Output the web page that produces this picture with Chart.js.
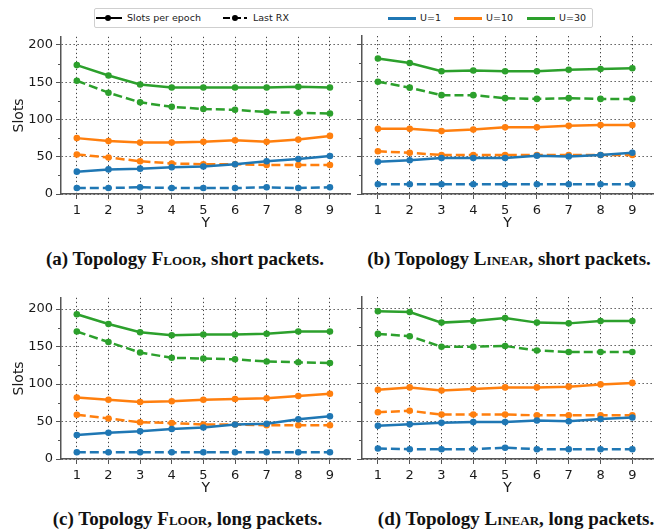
<!DOCTYPE html>
<html><head><meta charset="utf-8">
<script src="https://cdn.jsdelivr.net/npm/chart.js@4.4.1/dist/chart.umd.min.js"></script>
<style>
html,body{margin:0;padding:0;background:#fff}
body{width:670px;height:531px;position:relative;overflow:hidden;font-family:'DejaVu Sans',sans-serif;color:#1a1a1a}
.panel{position:absolute}
.cap{position:absolute;font-family:'Liberation Serif',serif;font-weight:bold;font-size:19px;line-height:20px;white-space:nowrap;transform:translateX(-50%);color:#111}
.sc{font-variant:small-caps}
#legend{position:absolute;left:94px;top:8px;width:499px;height:20px;border:1px solid #cfcfcf;border-radius:2px;box-sizing:border-box}
.lt{position:absolute;font-size:9.5px;line-height:12px;top:12px;white-space:nowrap;color:#1a1a1a}
.ln{position:absolute}
.dot{position:absolute;width:6px;height:6px;border-radius:50%;background:#000}
</style>
</head><body>
<div id="legend"></div>
<div class="ln" style="left:96px;top:17px;width:26px;height:2px;background:#000"></div>
<div class="dot" style="left:105px;top:15px"></div>
<div class="lt" style="left:127px">Slots per epoch</div>
<div class="ln" style="left:223px;top:17px;width:7px;height:2px;background:#000"></div>
<div class="ln" style="left:234px;top:17px;width:7px;height:2px;background:#000"></div>
<div class="ln" style="left:244px;top:17px;width:3px;height:2px;background:#000"></div>
<div class="dot" style="left:232px;top:15px"></div>
<div class="lt" style="left:253px">Last RX</div>
<div class="ln" style="left:388px;top:16.5px;width:28px;height:3px;background:#1f77b4"></div>
<div class="lt" style="left:420px">U=1</div>
<div class="ln" style="left:454px;top:16.5px;width:28px;height:3px;background:#ff7f0e"></div>
<div class="lt" style="left:486px">U=10</div>
<div class="ln" style="left:527px;top:16.5px;width:28px;height:3px;background:#2ca02c"></div>
<div class="lt" style="left:559px">U=30</div>

<canvas id="ca" class="panel" style="left:0px;top:26px" width="351" height="206"></canvas>
<canvas id="cb" class="panel" style="left:352px;top:26px" width="302" height="206"></canvas>
<canvas id="cc" class="panel" style="left:0px;top:287px" width="351" height="210"></canvas>
<canvas id="cd" class="panel" style="left:352px;top:287px" width="302" height="210"></canvas>

<div class="cap" style="left:185px;top:249px">(a) Topology <span class="sc">Floor</span>, short packets.</div>
<div class="cap" style="left:509px;top:249px">(b) Topology <span class="sc">Linear</span>, short packets.</div>
<div class="cap" style="left:187.5px;top:509px">(c) Topology <span class="sc">Floor</span>, long packets.</div>
<div class="cap" style="left:516px;top:509px">(d) Topology <span class="sc">Linear</span>, long packets.</div>

<script>
// ---- data ----
const xValues = [1, 2, 3, 4, 5, 6, 7, 8, 9];
const xTicks = [1, 2, 3, 4, 5, 6, 7, 8, 9];
const yTicks = [0, 50, 100, 150, 200];
const yMinorTicks = [25, 75, 125, 175];

// (a) Floor, short packets
const aSlotsU1  = [30, 33, 34, 36, 37, 40, 44, 47, 51];
const aRxU1     = [8, 8, 9, 8, 8, 8, 9, 8, 9];
const aSlotsU10 = [75, 71, 69, 69, 70, 72, 70, 73, 78];
const aRxU10    = [53, 49, 44, 41, 40, 40, 39, 39, 39];
const aSlotsU30 = [173, 159, 147, 143, 143, 143, 143, 144, 143];
const aRxU30    = [152, 136, 123, 117, 114, 113, 110, 109, 108];

// (b) Linear, short packets
const bSlotsU1  = [43, 45, 48, 48, 48, 51, 50, 52, 55];
const bRxU1     = [13, 13, 13, 13, 13, 13, 13, 13, 13];
const bSlotsU10 = [87, 87, 84, 86, 89, 89, 91, 92, 92];
const bRxU10    = [57, 55, 52, 52, 52, 52, 52, 52, 52];
const bSlotsU30 = [181, 175, 164, 165, 164, 164, 166, 167, 168];
const bRxU30    = [150, 142, 132, 132, 128, 127, 128, 127, 127];

// (c) Floor, long packets
const cSlotsU1  = [32, 35, 37, 40, 42, 46, 47, 53, 57];
const cRxU1     = [9, 9, 9, 9, 9, 9, 9, 9, 9];
const cSlotsU10 = [82, 79, 76, 77, 79, 80, 81, 84, 87];
const cRxU10    = [59, 54, 49, 48, 46, 46, 45, 45, 45];
const cSlotsU30 = [193, 180, 169, 165, 166, 166, 167, 170, 170];
const cRxU30    = [170, 156, 142, 135, 134, 133, 130, 129, 128];

// (d) Linear, long packets
const dSlotsU1  = [44, 46, 48, 49, 49, 51, 50, 53, 55];
const dRxU1     = [14, 13, 13, 13, 15, 13, 13, 13, 13];
const dSlotsU10 = [92, 95, 91, 93, 95, 95, 96, 99, 101];
const dRxU10    = [62, 64, 59, 59, 59, 58, 58, 58, 58];
const dSlotsU30 = [196, 195, 181, 183, 187, 181, 180, 183, 183];
const dRxU30    = [166, 163, 149, 149, 150, 144, 142, 142, 142];

const colorU1 = '#1f77b4', colorU10 = '#ff7f0e', colorU30 = '#2ca02c';
const FONT = "'DejaVu Sans', sans-serif";
const AXIS = '#555555';

function series(vals, color, dashed) {
  return {
    data: xValues.map((x, i) => ({x: x, y: vals[i]})),
    borderColor: color, backgroundColor: color,
    pointBackgroundColor: color, pointBorderColor: color,
    borderWidth: 2.5, pointRadius: 3.3, pointBorderWidth: 0,
    borderDash: dashed ? [9, 4] : [], tension: 0, fill: false
  };
}

const minorTicks = {
  id: 'minorTicks',
  afterDatasetsDraw(chart) {
    const ys = chart.scales.y, ctx = chart.ctx, left = chart.chartArea.left;
    ctx.save();
    ctx.strokeStyle = AXIS; ctx.lineWidth = 1;
    yMinorTicks.forEach(v => {
      const p = Math.round(ys.getPixelForValue(v)) + 0.5;
      ctx.beginPath(); ctx.moveTo(left - 3, p); ctx.lineTo(left, p); ctx.stroke();
    });
    ctx.restore();
  }
};

function makePanel(id, sets, showY, yMax, yWidth, padRight) {
  const ds = [
    series(sets[0], colorU1, false), series(sets[1], colorU1, true),
    series(sets[2], colorU10, false), series(sets[3], colorU10, true),
    series(sets[4], colorU30, false), series(sets[5], colorU30, true)
  ];
  new Chart(document.getElementById(id), {
    type: 'line',
    data: {datasets: ds},
    options: {
      responsive: false, animation: false, events: [],
      layout: {padding: {left: 0, right: padRight, top: 10, bottom: 0}, autoPadding: false},
      plugins: {legend: {display: false}, tooltip: {enabled: false}},
      scales: {
        x: {
          type: 'linear', min: 0.5, max: 9.65,
          afterBuildTicks: s => { s.ticks = xTicks.map(v => ({value: v})); },
          afterFit: s => { s.height = 38; },
          grid: {color: '#444', lineWidth: 1, tickLength: 5, tickColor: AXIS, drawTicks: true},
          border: {display: true, color: AXIS, width: 1.5, dash: [1.3, 2.7]},
          ticks: {font: {family: FONT, size: 13}, color: '#1a1a1a', padding: 4, maxRotation: 0, autoSkip: false},
          title: {display: true, text: 'Y', font: {family: FONT, size: 14}, color: '#1a1a1a', padding: {top: 0, bottom: 0}}
        },
        y: {
          type: 'linear', min: 0, max: yMax,
          afterBuildTicks: s => { s.ticks = yTicks.map(v => ({value: v})); },
          afterFit: s => { s.width = yWidth; },
          grid: {color: '#444', lineWidth: 1, tickLength: 5, tickColor: AXIS, drawTicks: true},
          border: {display: true, color: AXIS, width: 1.5, dash: [1.3, 2.7]},
          ticks: {display: showY, font: {family: FONT, size: 13}, color: '#1a1a1a', padding: 3},
          title: {display: showY, text: 'Slots', font: {family: FONT, size: 14}, color: '#1a1a1a', padding: {top: 10.6, bottom: 0}}
        }
      }
    },
    plugins: [minorTicks]
  });
}

makePanel('ca', [aSlotsU1, aRxU1, aSlotsU10, aRxU10, aSlotsU30, aRxU30], true, 211, 61, 0.5);
makePanel('cb', [bSlotsU1, bRxU1, bSlotsU10, bRxU10, bSlotsU30, bRxU30], false, 211, 10, 1);
makePanel('cc', [cSlotsU1, cRxU1, cSlotsU10, cRxU10, cSlotsU30, cRxU30], true, 215, 61, 0.5);
makePanel('cd', [dSlotsU1, dRxU1, dSlotsU10, dRxU10, dSlotsU30, dRxU30], false, 215, 10, 1);
</script>
</body></html>
